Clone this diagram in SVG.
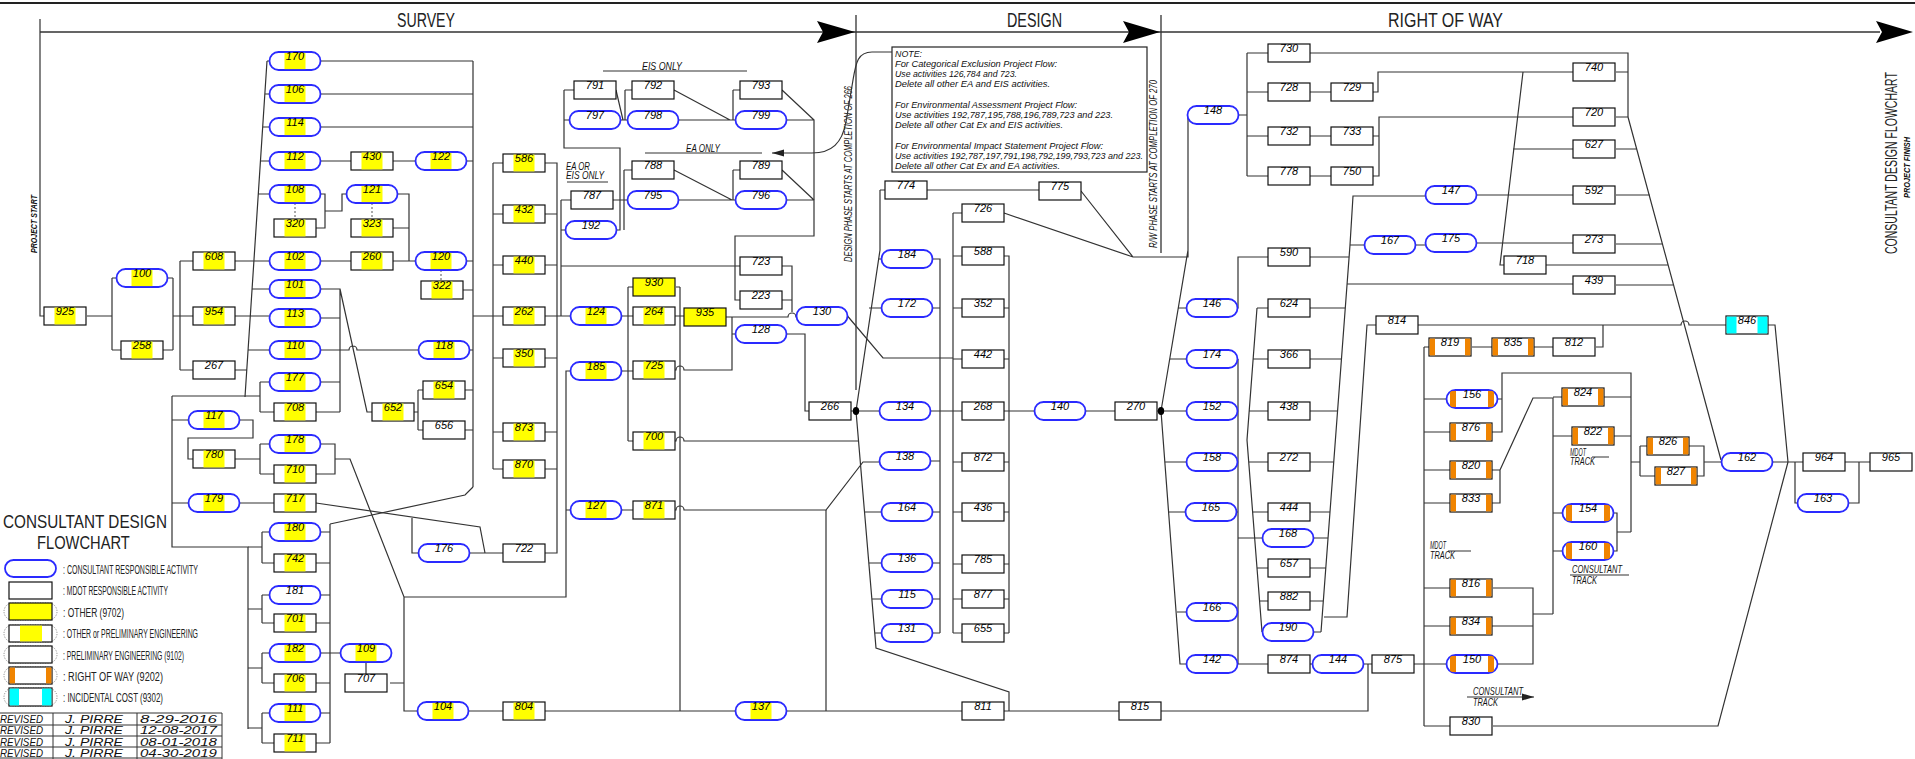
<svg xmlns="http://www.w3.org/2000/svg" xmlns:xlink="http://www.w3.org/1999/xlink" width="1915" height="759" viewBox="0 0 1915 759">
<style>
.p{fill:#fff;stroke:#2a2aff;stroke-width:1.8}
.r{fill:#fff;stroke:#111;stroke-width:1.2}
.y{fill:#ffff00}
.o{fill:#f08400}
.c{fill:#00ffff}
.n{font-family:"Liberation Sans",Arial,sans-serif;font-style:italic;font-size:11px;text-anchor:middle;fill:#000}
.w{fill:none;stroke:#333;stroke-width:1.2}
.d{fill:none;stroke:#555;stroke-width:1;stroke-dasharray:2,2}
.t{font-family:"Liberation Sans",Arial,sans-serif;fill:#222}
.i{font-family:"Liberation Sans",Arial,sans-serif;font-style:italic;fill:#111}
</style>
<defs>
<clipPath id="pc"><rect x="-25.5" y="-9" width="51" height="18" rx="9"/></clipPath>
<g id="Pw"><rect x="-25.5" y="-9" width="51" height="18" rx="9" class="p"/></g>
<g id="Py"><rect x="-25.5" y="-9" width="51" height="18" rx="9" class="p"/><rect x="-10.5" y="-8.1" width="21" height="16.2" class="y"/></g>
<g id="Po"><rect x="-25.5" y="-9" width="51" height="18" rx="9" class="p"/><g clip-path="url(#pc)"><rect x="-22" y="-8.1" width="6" height="16.2" class="o"/><rect x="16" y="-8.1" width="6" height="16.2" class="o"/></g></g>
<g id="Rw"><rect x="-21" y="-9" width="42" height="18" class="r"/></g>
<g id="Ry"><rect x="-21" y="-9" width="42" height="18" class="r"/><rect x="-10.5" y="-8.4" width="21" height="16.8" class="y"/></g>
<g id="RY"><rect x="-21" y="-9" width="42" height="18" class="r" style="fill:#ffff00"/></g>
<g id="Ro"><rect x="-21" y="-9" width="42" height="18" class="r"/><rect x="-20.4" y="-8.4" width="5.4" height="16.8" class="o"/><rect x="15" y="-8.4" width="5.4" height="16.8" class="o"/></g>
<g id="Rc"><rect x="-21" y="-9" width="42" height="18" class="r"/><rect x="-20.4" y="-8.4" width="9.9" height="16.8" class="c"/><rect x="10.5" y="-8.4" width="9.9" height="16.8" class="c"/></g>
<marker id="ar" viewBox="0 0 12 8" refX="12" refY="4" markerWidth="12" markerHeight="8" markerUnits="userSpaceOnUse" orient="auto"><path d="M0,0.5 L12,4 L0,7.5 Z" fill="#222"/></marker>
</defs>
<rect width="1915" height="759" fill="#fff"/>

<g id="header">
<path d="M0,3 H1915" stroke="#222" stroke-width="1.8" fill="none"/>
<path d="M40,32 H1880 M856,15 V390 M1161,15 V253" stroke="#333" stroke-width="1.3" fill="none"/>
<polygon points="817,21 855,32 817,43 823,32" fill="#000"/>
<polygon points="1123,21 1160,32 1123,43 1129,32" fill="#000"/>
<polygon points="1876,21 1913,32 1876,43 1882,32" fill="#000"/>
<text class="t" transform="translate(397,27) scale(0.7,1)" font-size="21" textLength="82.9" lengthAdjust="spacingAndGlyphs">SURVEY</text>
<text class="t" transform="translate(1007,27) scale(0.7,1)" font-size="21" textLength="78.6" lengthAdjust="spacingAndGlyphs">DESIGN</text>
<text class="t" transform="translate(1388,27) scale(0.7,1)" font-size="21" textLength="164.3" lengthAdjust="spacingAndGlyphs">RIGHT OF WAY</text>
<text class="i" transform="translate(37,253) rotate(-90)" font-size="9" font-weight="bold" textLength="58" lengthAdjust="spacingAndGlyphs">PROJECT START</text>
<text class="i" transform="translate(1910,198) rotate(-90)" font-size="9" font-weight="bold" textLength="61" lengthAdjust="spacingAndGlyphs">PROJECT FINISH</text>
<text class="t" transform="translate(1897,254) rotate(-90) scale(0.6,1)" font-size="17" textLength="303" lengthAdjust="spacingAndGlyphs">CONSULTANT DESIGN FLOWCHART</text>
<text class="i" transform="translate(852,262) rotate(-90)" font-size="10" textLength="176" lengthAdjust="spacingAndGlyphs">DESIGN PHASE STARTS AT COMPLETION OF 266</text>
<text class="i" transform="translate(1157,248) rotate(-90)" font-size="10" textLength="168" lengthAdjust="spacingAndGlyphs">R/W PHASE STARTS AT COMPLETION OF 270</text>
</g>

<g id="note">
<rect x="892" y="47" width="255" height="125" fill="#fff" stroke="#222" stroke-width="1.2"/>
<g class="i" font-size="9.5">
<text x="895" y="57" textLength="27" lengthAdjust="spacingAndGlyphs">NOTE:</text>
<text x="895" y="67" textLength="162" lengthAdjust="spacingAndGlyphs">For Categorical Exclusion Project Flow:</text>
<text x="895" y="77" textLength="122" lengthAdjust="spacingAndGlyphs">Use activities 126,784 and 723.</text>
<text x="895" y="87" textLength="155" lengthAdjust="spacingAndGlyphs">Delete all other EA and EIS activities.</text>
<text x="895" y="108" textLength="182" lengthAdjust="spacingAndGlyphs">For Environmental Assessment Project Flow:</text>
<text x="895" y="118" textLength="218" lengthAdjust="spacingAndGlyphs">Use activities 192,787,195,788,196,789,723 and 223.</text>
<text x="895" y="128" textLength="168" lengthAdjust="spacingAndGlyphs">Delete all other Cat Ex and EIS activities.</text>
<text x="895" y="149" textLength="208" lengthAdjust="spacingAndGlyphs">For Environmental Impact Statement Project Flow:</text>
<text transform="translate(895,159) scale(0.85,1)" textLength="291.8" lengthAdjust="spacingAndGlyphs">Use activities 192,787,197,791,198,792,199,793,723 and 223.</text>
<text x="895" y="169" textLength="165" lengthAdjust="spacingAndGlyphs">Delete all other Cat Ex and EA activities.</text>
</g>
</g>

<g id="connectors" class="w">
<path d="M40,19 V316 H44 M87,316 H112 M112,278 V350 M112,278 H117 M112,350 H121 M168,278 H173 M163,350 H173 M173,278 V350 M173,316 H193 M180,261 V370 M180,261 H193 M180,370 H193"/>
<path d="M267,61 L245,397 M235,316 H269.5 M267,61 H269.5 M265,94 H269.5 M263,127 H269.5 M260,161 H269.5 M258,194 H269.5 M235,261 H269.5 M252,289 H269.5 M248,350 H269.5 M235,370 H247"/>
<path d="M172,396 H260 M260,382 V412 M260,382 H269.5 M260,412 H274 M172,396 V547 H248 V729 M172,420 H188.5 M239.5,420 H253 V438 H188 V459 H193 M235,459 H260 M260,444 V474 M260,444 H269.5 M260,474 H274 M172,503 H188.5 M239.5,503 H274"/>
<path d="M248,547 H262 M262,532 V563 M262,532 H269.5 M262,563 H274 M248,609 H262 M262,595 V623 M262,595 H269.5 M262,623 H274 M248,668 H262 M262,653 V683 M262,653 H269.5 M262,683 H274 M248,728 H262 M262,713 V743 M262,713 H269.5 M262,743 H274"/>
<path d="M320.5,532 H330 M316,563 H330 M320.5,595 H330 M316,623 H330 M320.5,653 H340.5 M316,683 H330 M320.5,713 H330 M316,743 H330 M330,524 V743 M330,524 L465,495 L473,487"/>
<path d="M320.5,61 H473 M320.5,94 H473 M320.5,127 H473 M320.5,161 H351 M393,161 H415.5 M466.5,161 H473 M320.5,194 H325 V228 H316 M325,211 H342 V194 H346.5 M397.5,194 H409 V261 M393,228 H409 M320.5,261 H351 M393,261 H415.5 M466.5,261 H473 M463,290 H473 M473,61 V487"/>
<path class="d" d="M295,203 V219 M372,203 V219 M441,270 V281"/>
<path d="M320.5,289 H340 V412 M320.5,318 H340 M320.5,382 H340 M316,412 H340 M340,289 L367,412 H372 M320.5,350 H349 A4,4 0 0 1 357,350 H418.5 M469.5,350 H473"/>
<path d="M414,412 H418 M418,390 V430 M418,390 H423 M418,430 H423 M465,390 H473 M465,430 H473"/>
<path d="M320.5,444 H335 V474 H316 M335,459 H350 L404,597 H566 V371 H570.5 M566,510 H570.5 M404,597 V711 H417.5 M390,683 H404 M366,662 V674"/>
<path d="M316,503 L480,527 L485,553 H503 M418.5,553 H412 V518 M469.5,553 H485"/>
<path d="M468.5,711 H503 M545,711 H735.5 M680,287 V711 M786.5,711 H962 M826,510 V711 M1004,711 H1119 M1161,711 H1368 V664 H1372 M1310,664 H1312.5 M1363.5,664 H1372"/>
<path d="M493,163 V469 M493,163 H503 M493,214 H503 M493,265 H503 M473,316 H503 M493,358 H503 M493,432 H503 M493,469 H503 M545,163 H557 V553 H545 M545,214 H557 M545,265 H557 M545,358 H557 M545,432 H557 M545,469 H557 M545,316 H570.5"/>
<path d="M564,90 V148 H620 V230 H616.5 M564,90 H574 M564,120 H569.5 M616,90 L623,120 M620.5,120 H627.5 M625,90 V120 M625,90 H632 M674,90 L730,120 M678.5,120 H735.5 M733,90 V120 M733,90 H740 M782,90 L814,120 M786.5,120 H814 V236 H735 V300 H740 M735,266 H740"/>
<path d="M624,170 V230 M624,170 H632 M613,200 H627.5 M674,170 L732,200 M678.5,200 H735.5 M733,170 V200 M733,170 H740 M782,170 L814,200 M786.5,200 H814 M561,200 V316 M561,200 H571 M561,230 H565.5 M561,266 H735"/>
<path d="M621.5,316 H633 M675,316 H684 M628,287 V441 M628,287 H633 M621.5,371 H633 M628,441 H633 M676,287 H680 M726,317 H788 A4,4 0 0 1 796,317 H796.5 M675,370 H676 A4,4 0 0 1 684,370 H732 V317 M732,334 H735.5 M675,441 H676 A4,4 0 0 1 684,441 H858 M621.5,510 H633 M675,510 H676 A4,4 0 0 1 684,510 H826 L863,462 H879.5 M782,266 H792 V312 M782,300 H792 M786.5,334 H805 V411 H809 M851,411 H879.5"/>
<path d="M880,190 H885 M880,190 V250 L856,411 L876,648 L1009,692 V711 M878,259 H881.5 M869,308 H881.5 M865,512 H881.5 M869,563 H881.5 M872,599 H881.5 M875,633 H881.5"/>
<path d="M932.5,259 H940 V633 M932.5,308 H940 M930.5,411 H962 M930.5,461 H940 M932.5,512 H940 M932.5,563 H940 M932.5,599 H940 M932.5,633 H940 M847.5,316 L883,358 H953"/>
<path d="M953,213 V633 M953,213 H962 M953,256 H962 M953,308 H962 M953,359 H962 M953,462 H962 M953,512 H962 M953,564 H962 M953,599 H962 M953,633 H962 M1004,256 H1009 V633 M1004,308 H1009 M1004,359 H1009 M1004,462 H1009 M1004,512 H1009 M1004,564 H1009 M1004,599 H1009 M1004,633 H1009 M1004,411 H1034.5 M1085.5,411 H1115 M1157,411 H1186.5"/>
<path d="M927,190 H1039 M1081,191 L1133,257 M1004,213 L1133,257 H1188 V115 M1161,411 L1188,250"/>
<path d="M1178,308 H1186.5 M1170,359 H1186.5 M1161,411 L1180,664 H1186.5 M1165,462 H1186.5 M1168,512 H1185.5 M1177,612 H1186.5"/>
<path d="M1236.5,308 H1238 V257 H1268 M1238,359 V664 M1236.5,359 H1238 M1236.5,411 H1238 M1236.5,462 H1238 M1236.5,512 H1238 M1236.5,612 H1238 M1236.5,664 H1268 M1238,538 H1262.5"/>
<path d="M1257,308 L1247,440 L1262,632 M1257,308 H1268 M1253,359 H1268 M1249,411 H1268 M1249,462 H1268 M1252.5,512 H1268 M1257,568 H1268 M1259.5,601 H1268 M1262,632 H1262.5"/>
<path d="M1350,245 L1321,632 M1310,308 H1345 M1310,359 H1341.5 M1310,411 H1337.5 M1310,462 H1333.5 M1310,512 H1330 M1313.5,538 H1328 M1310,568 H1326 M1310,601 H1323.5 M1313.5,632 H1321 M1310,257 H1349 M1347,284 H1573 M1350,245 H1364.5 M1350,245 L1353,196 H1425.5"/>
<path d="M1376,325 H1367 L1347,617 H1324 M1418,325 H1681 A4,4 0 0 1 1689,325 H1726 M1472,347 H1492 M1534,347 H1553 M1596,347 H1603 V325"/>
<path d="M1424,347 V726 M1424,347 H1429 M1424,399 H1446.5 M1424,432 H1450 M1424,470 H1450 M1424,503 H1450 M1424,588 H1450 M1424,626 H1450 M1424,664 H1446.5 M1424,726 H1450 M1414,664 H1424"/>
<path d="M1497.5,399 H1502 V373 H1631 V532 M1492,432 H1502 V399 M1604,397 H1631 M1614,436 H1631 M1492,470 H1500 V503 H1492 M1500,470 L1533,398 H1553 V614 M1553,397 H1562 M1553,436 H1572 M1553,513 H1562.5 M1553,551 H1562.5"/>
<path d="M1493,588 H1533 V664 H1497.5 M1492,626 H1533 M1533,614 H1553 M1613.5,513 H1617 V551 H1613.5 M1617,532 H1631 M1631,462 H1640 M1640,446 V476 M1640,446 H1647 M1640,476 H1655 M1689,446 H1704 V476 H1697 M1704,462 H1721.5"/>
<path d="M1772.5,462 H1803 M1768,325 H1775 L1788,462 M1493,726 H1718 L1788,462 M1795,462 V503 H1797.5 M1845,462 H1870 M1848.5,503 H1859 V462"/>
<path d="M1238.5,115 H1247 M1247,53 V176 M1247,53 H1268 M1247,92 H1268 M1247,136 H1268 M1247,176 H1268 M1310,92 H1331 M1310,136 H1331 M1310,176 H1331 M1310,53 H1628 V117 M1616,72 H1628 M1616,117 H1628 M1373,92 H1378 V72 H1573 M1373,136 H1379 V117 H1573 M1373,176 H1379 V136"/>
<path d="M1415.5,245 H1425.5 M1476.5,195 H1573 M1476.5,243 H1573 M1523,72 L1500,265 H1504 M1628,117 L1721,460 M1513,149 H1573 M1616,149 H1637 M1616,195 H1650 M1616,244 H1663 M1546,265 H1668 M1616,285 H1673"/>
<path d="M892,52 H872 C858,52 856,62 853,80 L846,122 C842,143 832,153 812,153 H772" marker-end="url(#ar)"/>
<path d="M603,71 H747 M645,153 H762 M567,182 H608 M1592,457 H1609 M1448,551 H1471 M1570,575 H1629 M1467,697 H1534" marker-end="url(#ar)"/>
<ellipse cx="856" cy="411" rx="3.2" ry="4" fill="#000" stroke="none"/>
<ellipse cx="1161" cy="411" rx="3.2" ry="4" fill="#000" stroke="none"/>
</g>

<g id="labels" class="i" font-size="10">
<text x="642" y="69.5" textLength="40" lengthAdjust="spacingAndGlyphs">EIS ONLY</text>
<text x="686" y="151.5" textLength="34" lengthAdjust="spacingAndGlyphs">EA ONLY</text>
<text x="566" y="169.5" textLength="24" lengthAdjust="spacingAndGlyphs">EA OR</text>
<text x="566" y="179" textLength="38" lengthAdjust="spacingAndGlyphs">EIS ONLY</text>
<text x="1570" y="456" textLength="16" lengthAdjust="spacingAndGlyphs">MDOT</text>
<text x="1570" y="465" textLength="25" lengthAdjust="spacingAndGlyphs">TRACK</text>
<text x="1430" y="549" textLength="16" lengthAdjust="spacingAndGlyphs">MDOT</text>
<text x="1430" y="559" textLength="25" lengthAdjust="spacingAndGlyphs">TRACK</text>
<text x="1572" y="573" textLength="50" lengthAdjust="spacingAndGlyphs">CONSULTANT</text>
<text x="1572" y="584" textLength="25" lengthAdjust="spacingAndGlyphs">TRACK</text>
<text x="1473" y="695" textLength="50" lengthAdjust="spacingAndGlyphs">CONSULTANT</text>
<text x="1473" y="706" textLength="25" lengthAdjust="spacingAndGlyphs">TRACK</text>
</g>

<g id="n925" transform="translate(65,316)"><use href="#Ry"/><text class="n" y="-1">925</text></g>
<g id="n100" transform="translate(142,278)"><use href="#Py"/><text class="n" y="-1">100</text></g>
<g id="n258" transform="translate(142,350)"><use href="#Ry"/><text class="n" y="-1">258</text></g>
<g id="n608" transform="translate(214,261)"><use href="#Ry"/><text class="n" y="-1">608</text></g>
<g id="n954" transform="translate(214,316)"><use href="#Ry"/><text class="n" y="-1">954</text></g>
<g id="n267" transform="translate(214,370)"><use href="#Rw"/><text class="n" y="-1">267</text></g>
<g id="n170" transform="translate(295,61)"><use href="#Py"/><text class="n" y="-1">170</text></g>
<g id="n106" transform="translate(295,94)"><use href="#Py"/><text class="n" y="-1">106</text></g>
<g id="n114" transform="translate(295,127)"><use href="#Py"/><text class="n" y="-1">114</text></g>
<g id="n112" transform="translate(295,161)"><use href="#Py"/><text class="n" y="-1">112</text></g>
<g id="n108" transform="translate(295,194)"><use href="#Py"/><text class="n" y="-1">108</text></g>
<g id="n320" transform="translate(295,228)"><use href="#Ry"/><text class="n" y="-1">320</text></g>
<g id="n430" transform="translate(372,161)"><use href="#Ry"/><text class="n" y="-1">430</text></g>
<g id="n122" transform="translate(441,161)"><use href="#Py"/><text class="n" y="-1">122</text></g>
<g id="n121" transform="translate(372,194)"><use href="#Py"/><text class="n" y="-1">121</text></g>
<g id="n323" transform="translate(372,228)"><use href="#Ry"/><text class="n" y="-1">323</text></g>
<g id="n102" transform="translate(295,261)"><use href="#Py"/><text class="n" y="-1">102</text></g>
<g id="n260" transform="translate(372,261)"><use href="#Ry"/><text class="n" y="-1">260</text></g>
<g id="n120" transform="translate(441,261)"><use href="#Py"/><text class="n" y="-1">120</text></g>
<g id="n322" transform="translate(442,290)"><use href="#Ry"/><text class="n" y="-1">322</text></g>
<g id="n101" transform="translate(295,289)"><use href="#Py"/><text class="n" y="-1">101</text></g>
<g id="n113" transform="translate(295,318)"><use href="#Py"/><text class="n" y="-1">113</text></g>
<g id="n110" transform="translate(295,350)"><use href="#Py"/><text class="n" y="-1">110</text></g>
<g id="n118" transform="translate(444,350)"><use href="#Py"/><text class="n" y="-1">118</text></g>
<g id="n177" transform="translate(295,382)"><use href="#Py"/><text class="n" y="-1">177</text></g>
<g id="n708" transform="translate(295,412)"><use href="#Ry"/><text class="n" y="-1">708</text></g>
<g id="n652" transform="translate(393,412)"><use href="#Ry"/><text class="n" y="-1">652</text></g>
<g id="n654" transform="translate(444,390)"><use href="#Ry"/><text class="n" y="-1">654</text></g>
<g id="n656" transform="translate(444,430)"><use href="#Rw"/><text class="n" y="-1">656</text></g>
<g id="n117" transform="translate(214,420)"><use href="#Py"/><text class="n" y="-1">117</text></g>
<g id="n780" transform="translate(214,459)"><use href="#Ry"/><text class="n" y="-1">780</text></g>
<g id="n178" transform="translate(295,444)"><use href="#Py"/><text class="n" y="-1">178</text></g>
<g id="n710" transform="translate(295,474)"><use href="#Ry"/><text class="n" y="-1">710</text></g>
<g id="n179" transform="translate(214,503)"><use href="#Py"/><text class="n" y="-1">179</text></g>
<g id="n717" transform="translate(295,503)"><use href="#Ry"/><text class="n" y="-1">717</text></g>
<g id="n180" transform="translate(295,532)"><use href="#Py"/><text class="n" y="-1">180</text></g>
<g id="n742" transform="translate(295,563)"><use href="#Ry"/><text class="n" y="-1">742</text></g>
<g id="n181" transform="translate(295,595)"><use href="#Pw"/><text class="n" y="-1">181</text></g>
<g id="n701" transform="translate(295,623)"><use href="#Ry"/><text class="n" y="-1">701</text></g>
<g id="n182" transform="translate(295,653)"><use href="#Py"/><text class="n" y="-1">182</text></g>
<g id="n706" transform="translate(295,683)"><use href="#Ry"/><text class="n" y="-1">706</text></g>
<g id="n111" transform="translate(295,713)"><use href="#Py"/><text class="n" y="-1">111</text></g>
<g id="n711" transform="translate(295,743)"><use href="#Ry"/><text class="n" y="-1">711</text></g>
<g id="n109" transform="translate(366,653)"><use href="#Py"/><text class="n" y="-1">109</text></g>
<g id="n707" transform="translate(366,683)"><use href="#Rw"/><text class="n" y="-1">707</text></g>
<g id="n104" transform="translate(443,711)"><use href="#Py"/><text class="n" y="-1">104</text></g>
<g id="n176" transform="translate(444,553)"><use href="#Pw"/><text class="n" y="-1">176</text></g>
<g id="n586" transform="translate(524,163)"><use href="#Ry"/><text class="n" y="-1">586</text></g>
<g id="n432" transform="translate(524,214)"><use href="#Ry"/><text class="n" y="-1">432</text></g>
<g id="n440" transform="translate(524,265)"><use href="#Ry"/><text class="n" y="-1">440</text></g>
<g id="n262" transform="translate(524,316)"><use href="#Ry"/><text class="n" y="-1">262</text></g>
<g id="n350" transform="translate(524,358)"><use href="#Ry"/><text class="n" y="-1">350</text></g>
<g id="n873" transform="translate(524,432)"><use href="#Ry"/><text class="n" y="-1">873</text></g>
<g id="n870" transform="translate(524,469)"><use href="#Ry"/><text class="n" y="-1">870</text></g>
<g id="n722" transform="translate(524,553)"><use href="#Rw"/><text class="n" y="-1">722</text></g>
<g id="n804" transform="translate(524,711)"><use href="#Ry"/><text class="n" y="-1">804</text></g>
<g id="n791" transform="translate(595,90)"><use href="#Rw"/><text class="n" y="-1">791</text></g>
<g id="n797" transform="translate(595,120)"><use href="#Pw"/><text class="n" y="-1">797</text></g>
<g id="n792" transform="translate(653,90)"><use href="#Rw"/><text class="n" y="-1">792</text></g>
<g id="n798" transform="translate(653,120)"><use href="#Pw"/><text class="n" y="-1">798</text></g>
<g id="n793" transform="translate(761,90)"><use href="#Rw"/><text class="n" y="-1">793</text></g>
<g id="n799" transform="translate(761,120)"><use href="#Pw"/><text class="n" y="-1">799</text></g>
<g id="n788" transform="translate(653,170)"><use href="#Rw"/><text class="n" y="-1">788</text></g>
<g id="n795" transform="translate(653,200)"><use href="#Pw"/><text class="n" y="-1">795</text></g>
<g id="n789" transform="translate(761,170)"><use href="#Rw"/><text class="n" y="-1">789</text></g>
<g id="n796" transform="translate(761,200)"><use href="#Pw"/><text class="n" y="-1">796</text></g>
<g id="n787" transform="translate(592,200)"><use href="#Rw"/><text class="n" y="-1">787</text></g>
<g id="n192" transform="translate(591,230)"><use href="#Pw"/><text class="n" y="-1">192</text></g>
<g id="n124" transform="translate(596,316)"><use href="#Py"/><text class="n" y="-1">124</text></g>
<g id="n185" transform="translate(596,371)"><use href="#Py"/><text class="n" y="-1">185</text></g>
<g id="n127" transform="translate(596,510)"><use href="#Py"/><text class="n" y="-1">127</text></g>
<g id="n930" transform="translate(654,287)"><use href="#RY"/><text class="n" y="-1">930</text></g>
<g id="n264" transform="translate(654,316)"><use href="#Ry"/><text class="n" y="-1">264</text></g>
<g id="n725" transform="translate(654,370)"><use href="#Ry"/><text class="n" y="-1">725</text></g>
<g id="n700" transform="translate(654,441)"><use href="#Ry"/><text class="n" y="-1">700</text></g>
<g id="n871" transform="translate(654,510)"><use href="#Ry"/><text class="n" y="-1">871</text></g>
<g id="n935" transform="translate(705,317)"><use href="#RY"/><text class="n" y="-1">935</text></g>
<g id="n723" transform="translate(761,266)"><use href="#Rw"/><text class="n" y="-1">723</text></g>
<g id="n223" transform="translate(761,300)"><use href="#Rw"/><text class="n" y="-1">223</text></g>
<g id="n128" transform="translate(761,334)"><use href="#Pw"/><text class="n" y="-1">128</text></g>
<g id="n130" transform="translate(822,316)"><use href="#Pw"/><text class="n" y="-1">130</text></g>
<g id="n266" transform="translate(830,411)"><use href="#Rw"/><text class="n" y="-1">266</text></g>
<g id="n137" transform="translate(761,711)"><use href="#Py"/><text class="n" y="-1">137</text></g>

<g id="n774" transform="translate(906,190)"><use href="#Rw"/><text class="n" y="-1">774</text></g>
<g id="n184" transform="translate(907,259)"><use href="#Pw"/><text class="n" y="-1">184</text></g>
<g id="n172" transform="translate(907,308)"><use href="#Pw"/><text class="n" y="-1">172</text></g>
<g id="n134" transform="translate(905,411)"><use href="#Pw"/><text class="n" y="-1">134</text></g>
<g id="n138" transform="translate(905,461)"><use href="#Pw"/><text class="n" y="-1">138</text></g>
<g id="n164" transform="translate(907,512)"><use href="#Pw"/><text class="n" y="-1">164</text></g>
<g id="n136" transform="translate(907,563)"><use href="#Pw"/><text class="n" y="-1">136</text></g>
<g id="n115" transform="translate(907,599)"><use href="#Pw"/><text class="n" y="-1">115</text></g>
<g id="n131" transform="translate(907,633)"><use href="#Pw"/><text class="n" y="-1">131</text></g>
<g id="n775" transform="translate(1060,191)"><use href="#Rw"/><text class="n" y="-1">775</text></g>
<g id="n726" transform="translate(983,213)"><use href="#Rw"/><text class="n" y="-1">726</text></g>
<g id="n588" transform="translate(983,256)"><use href="#Rw"/><text class="n" y="-1">588</text></g>
<g id="n352" transform="translate(983,308)"><use href="#Rw"/><text class="n" y="-1">352</text></g>
<g id="n442" transform="translate(983,359)"><use href="#Rw"/><text class="n" y="-1">442</text></g>
<g id="n268" transform="translate(983,411)"><use href="#Rw"/><text class="n" y="-1">268</text></g>
<g id="n872" transform="translate(983,462)"><use href="#Rw"/><text class="n" y="-1">872</text></g>
<g id="n436" transform="translate(983,512)"><use href="#Rw"/><text class="n" y="-1">436</text></g>
<g id="n785" transform="translate(983,564)"><use href="#Rw"/><text class="n" y="-1">785</text></g>
<g id="n877" transform="translate(983,599)"><use href="#Rw"/><text class="n" y="-1">877</text></g>
<g id="n655" transform="translate(983,633)"><use href="#Rw"/><text class="n" y="-1">655</text></g>
<g id="n811" transform="translate(983,711)"><use href="#Rw"/><text class="n" y="-1">811</text></g>
<g id="n815" transform="translate(1140,711)"><use href="#Rw"/><text class="n" y="-1">815</text></g>
<g id="n140" transform="translate(1060,411)"><use href="#Pw"/><text class="n" y="-1">140</text></g>
<g id="n270" transform="translate(1136,411)"><use href="#Rw"/><text class="n" y="-1">270</text></g>

<g id="n148" transform="translate(1213,115)"><use href="#Pw"/><text class="n" y="-1">148</text></g>
<g id="n730" transform="translate(1289,53)"><use href="#Rw"/><text class="n" y="-1">730</text></g>
<g id="n728" transform="translate(1289,92)"><use href="#Rw"/><text class="n" y="-1">728</text></g>
<g id="n729" transform="translate(1352,92)"><use href="#Rw"/><text class="n" y="-1">729</text></g>
<g id="n732" transform="translate(1289,136)"><use href="#Rw"/><text class="n" y="-1">732</text></g>
<g id="n733" transform="translate(1352,136)"><use href="#Rw"/><text class="n" y="-1">733</text></g>
<g id="n778" transform="translate(1289,176)"><use href="#Rw"/><text class="n" y="-1">778</text></g>
<g id="n750" transform="translate(1352,176)"><use href="#Rw"/><text class="n" y="-1">750</text></g>
<g id="n590" transform="translate(1289,257)"><use href="#Rw"/><text class="n" y="-1">590</text></g>
<g id="n167" transform="translate(1390,245)"><use href="#Pw"/><text class="n" y="-1">167</text></g>
<g id="n147" transform="translate(1451,195)"><use href="#Pw"/><text class="n" y="-1">147</text></g>
<g id="n175" transform="translate(1451,243)"><use href="#Pw"/><text class="n" y="-1">175</text></g>
<g id="n740" transform="translate(1594,72)"><use href="#Rw"/><text class="n" y="-1">740</text></g>
<g id="n720" transform="translate(1594,117)"><use href="#Rw"/><text class="n" y="-1">720</text></g>
<g id="n627" transform="translate(1594,149)"><use href="#Rw"/><text class="n" y="-1">627</text></g>
<g id="n592" transform="translate(1594,195)"><use href="#Rw"/><text class="n" y="-1">592</text></g>
<g id="n273" transform="translate(1594,244)"><use href="#Rw"/><text class="n" y="-1">273</text></g>
<g id="n718" transform="translate(1525,265)"><use href="#Rw"/><text class="n" y="-1">718</text></g>
<g id="n439" transform="translate(1594,285)"><use href="#Rw"/><text class="n" y="-1">439</text></g>
<g id="n146" transform="translate(1212,308)"><use href="#Pw"/><text class="n" y="-1">146</text></g>
<g id="n174" transform="translate(1212,359)"><use href="#Pw"/><text class="n" y="-1">174</text></g>
<g id="n152" transform="translate(1212,411)"><use href="#Pw"/><text class="n" y="-1">152</text></g>
<g id="n158" transform="translate(1212,462)"><use href="#Pw"/><text class="n" y="-1">158</text></g>
<g id="n165" transform="translate(1211,512)"><use href="#Pw"/><text class="n" y="-1">165</text></g>
<g id="n166" transform="translate(1212,612)"><use href="#Pw"/><text class="n" y="-1">166</text></g>
<g id="n142" transform="translate(1212,664)"><use href="#Pw"/><text class="n" y="-1">142</text></g>
<g id="n624" transform="translate(1289,308)"><use href="#Rw"/><text class="n" y="-1">624</text></g>
<g id="n366" transform="translate(1289,359)"><use href="#Rw"/><text class="n" y="-1">366</text></g>
<g id="n438" transform="translate(1289,411)"><use href="#Rw"/><text class="n" y="-1">438</text></g>
<g id="n272" transform="translate(1289,462)"><use href="#Rw"/><text class="n" y="-1">272</text></g>
<g id="n444" transform="translate(1289,512)"><use href="#Rw"/><text class="n" y="-1">444</text></g>
<g id="n168" transform="translate(1288,538)"><use href="#Pw"/><text class="n" y="-1">168</text></g>
<g id="n657" transform="translate(1289,568)"><use href="#Rw"/><text class="n" y="-1">657</text></g>
<g id="n882" transform="translate(1289,601)"><use href="#Rw"/><text class="n" y="-1">882</text></g>
<g id="n190" transform="translate(1288,632)"><use href="#Pw"/><text class="n" y="-1">190</text></g>
<g id="n874" transform="translate(1289,664)"><use href="#Rw"/><text class="n" y="-1">874</text></g>
<g id="n144" transform="translate(1338,664)"><use href="#Pw"/><text class="n" y="-1">144</text></g>
<g id="n875" transform="translate(1393,664)"><use href="#Rw"/><text class="n" y="-1">875</text></g>
<g id="n814" transform="translate(1397,325)"><use href="#Rw"/><text class="n" y="-1">814</text></g>
<g id="n819" transform="translate(1450,347)"><use href="#Ro"/><text class="n" y="-1">819</text></g>
<g id="n835" transform="translate(1513,347)"><use href="#Ro"/><text class="n" y="-1">835</text></g>
<g id="n812" transform="translate(1574,347)"><use href="#Rw"/><text class="n" y="-1">812</text></g>
<g id="n846" transform="translate(1747,325)"><use href="#Rc"/><text class="n" y="-1">846</text></g>
<g id="n156" transform="translate(1472,399)"><use href="#Po"/><text class="n" y="-1">156</text></g>
<g id="n876" transform="translate(1471,432)"><use href="#Ro"/><text class="n" y="-1">876</text></g>
<g id="n820" transform="translate(1471,470)"><use href="#Ro"/><text class="n" y="-1">820</text></g>
<g id="n833" transform="translate(1471,503)"><use href="#Ro"/><text class="n" y="-1">833</text></g>
<g id="n816" transform="translate(1471,588)"><use href="#Ro"/><text class="n" y="-1">816</text></g>
<g id="n834" transform="translate(1471,626)"><use href="#Ro"/><text class="n" y="-1">834</text></g>
<g id="n150" transform="translate(1472,664)"><use href="#Po"/><text class="n" y="-1">150</text></g>
<g id="n830" transform="translate(1471,726)"><use href="#Rw"/><text class="n" y="-1">830</text></g>
<g id="n824" transform="translate(1583,397)"><use href="#Ro"/><text class="n" y="-1">824</text></g>
<g id="n822" transform="translate(1593,436)"><use href="#Ro"/><text class="n" y="-1">822</text></g>
<g id="n154" transform="translate(1588,513)"><use href="#Po"/><text class="n" y="-1">154</text></g>
<g id="n160" transform="translate(1588,551)"><use href="#Po"/><text class="n" y="-1">160</text></g>
<g id="n826" transform="translate(1668,446)"><use href="#Ro"/><text class="n" y="-1">826</text></g>
<g id="n827" transform="translate(1676,476)"><use href="#Ro"/><text class="n" y="-1">827</text></g>
<g id="n162" transform="translate(1747,462)"><use href="#Pw"/><text class="n" y="-1">162</text></g>
<g id="n964" transform="translate(1824,462)"><use href="#Rw"/><text class="n" y="-1">964</text></g>
<g id="n965" transform="translate(1891,462)"><use href="#Rw"/><text class="n" y="-1">965</text></g>
<g id="n163" transform="translate(1823,503)"><use href="#Pw"/><text class="n" y="-1">163</text></g>

<g id="legend">
<text class="t" transform="translate(3,528) scale(0.8,1)" font-size="18" textLength="205" lengthAdjust="spacingAndGlyphs">CONSULTANT DESIGN</text>
<text class="t" transform="translate(37,549) scale(0.8,1)" font-size="18" textLength="116" lengthAdjust="spacingAndGlyphs">FLOWCHART</text>
<rect x="5" y="560" width="51" height="17" rx="8.5" class="p"/>
<rect x="9" y="582" width="43" height="17" class="r"/>
<g fill="none" stroke="#777" stroke-width="1" stroke-dasharray="1,1.5">
<rect x="4" y="603" width="53" height="17" rx="8.5"/>
<rect x="4" y="625" width="53" height="17" rx="8.5"/>
<rect x="4" y="646" width="53" height="17" rx="8.5"/>
<rect x="4" y="667" width="53" height="17" rx="8.5"/>
<rect x="4" y="688" width="53" height="18" rx="9"/>
</g>
<rect x="9" y="603" width="43" height="17" class="r" style="fill:#ffff00"/>
<rect x="9" y="625" width="43" height="17" class="r"/><rect x="20" y="625.6" width="22" height="15.8" class="y"/>
<rect x="9" y="646" width="43" height="17" class="r"/>
<rect x="9" y="667" width="43" height="17" class="r"/><rect x="9.6" y="667.6" width="5.4" height="15.8" class="o"/><rect x="46" y="667.6" width="5.4" height="15.8" class="o"/>
<rect x="9" y="688" width="43" height="18" class="r"/><rect x="9.6" y="688.6" width="9.4" height="16.8" class="c"/><rect x="42" y="688.6" width="9.4" height="16.8" class="c"/>
<g class="t" font-size="13.5">
<text transform="translate(63,574) scale(0.6,1)" textLength="225" lengthAdjust="spacingAndGlyphs">: CONSULTANT RESPONSIBLE ACTIVITY</text>
<text transform="translate(63,595) scale(0.6,1)" textLength="175" lengthAdjust="spacingAndGlyphs">: MDOT RESPONSIBLE ACTIVITY</text>
<text transform="translate(63,617) scale(0.6,1)" textLength="101.7" lengthAdjust="spacingAndGlyphs">: OTHER (9702)</text>
<text transform="translate(63,638) scale(0.6,1)" textLength="225" lengthAdjust="spacingAndGlyphs">: OTHER or PRELIMINARY ENGINEERING</text>
<text transform="translate(63,660) scale(0.6,1)" textLength="201.7" lengthAdjust="spacingAndGlyphs">: PRELIMINARY ENGINEERING (9102)</text>
<text transform="translate(63,681) scale(0.6,1)" textLength="166.7" lengthAdjust="spacingAndGlyphs">: RIGHT OF WAY (9202)</text>
<text transform="translate(63,702) scale(0.6,1)" textLength="166.7" lengthAdjust="spacingAndGlyphs">: INCIDENTAL COST (9302)</text>
</g>
</g>

<g id="revisions">
<path d="M0,713 H222 M0,725 H222 M0,736 H222 M0,747 H222 M0,758 H222 M53,713 V759 M137,713 V759 M222,713 V759" fill="none" stroke="#333" stroke-width="1"/>
<g class="i" font-size="11">
<text x="0" y="723" textLength="43" lengthAdjust="spacingAndGlyphs">REVISED</text>
<text x="65" y="723" textLength="58" lengthAdjust="spacingAndGlyphs">J.   PIRRE</text>
<text x="140" y="723" textLength="77" lengthAdjust="spacingAndGlyphs">8-29-2016</text>
<text x="0" y="734" textLength="43" lengthAdjust="spacingAndGlyphs">REVISED</text>
<text x="65" y="734" textLength="58" lengthAdjust="spacingAndGlyphs">J.   PIRRE</text>
<text x="140" y="734" textLength="77" lengthAdjust="spacingAndGlyphs">12-08-2017</text>
<text x="0" y="746" textLength="43" lengthAdjust="spacingAndGlyphs">REVISED</text>
<text x="65" y="746" textLength="58" lengthAdjust="spacingAndGlyphs">J.   PIRRE</text>
<text x="140" y="746" textLength="77" lengthAdjust="spacingAndGlyphs">08-01-2018</text>
<text x="0" y="757" textLength="43" lengthAdjust="spacingAndGlyphs">REVISED</text>
<text x="65" y="757" textLength="58" lengthAdjust="spacingAndGlyphs">J.   PIRRE</text>
<text x="140" y="757" textLength="77" lengthAdjust="spacingAndGlyphs">04-30-2019</text>
</g>
</g>
</svg>
